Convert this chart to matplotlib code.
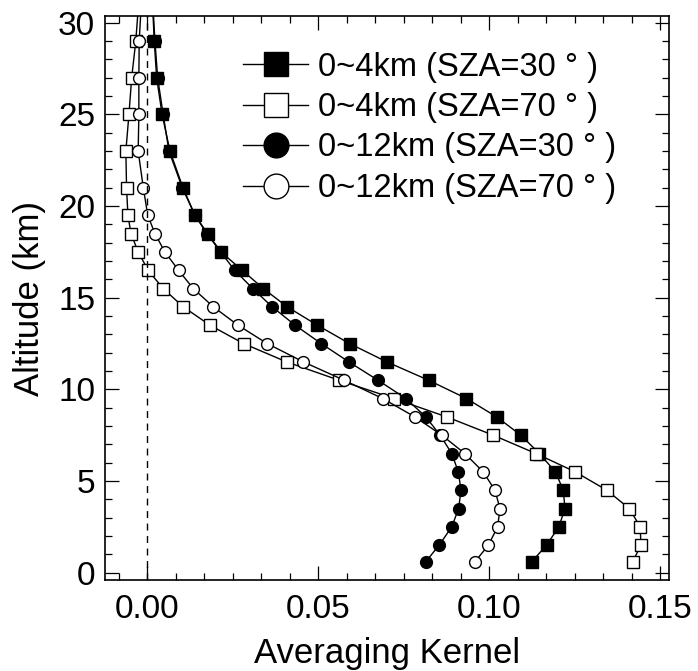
import matplotlib
matplotlib.use("Agg")
import matplotlib.pyplot as plt
from matplotlib.ticker import MultipleLocator

plt.rcParams['font.family'] = ['Liberation Sans', 'DejaVu Sans']

altitude = [0.6, 1.5, 2.5, 3.5, 4.5, 5.5, 6.5, 7.5, 8.5, 9.5, 10.5, 11.5, 12.5,
            13.5, 14.5, 15.5, 16.5, 17.5, 18.5, 19.5, 21, 23, 25, 27, 29, 31]

ak_4km_sza30 = [0.1124, 0.1167, 0.1203, 0.1221, 0.1216, 0.1193, 0.1146, 0.1092,
                0.1021, 0.0933, 0.0822, 0.0700, 0.0591, 0.0497, 0.0409, 0.0339,
                0.0277, 0.0215, 0.0176, 0.0139, 0.0104, 0.0066, 0.0043, 0.0027,
                0.0020, 0.0015]
ak_4km_sza70 = [0.1419, 0.1443, 0.1441, 0.1409, 0.1343, 0.1251, 0.1136, 0.1011,
                0.0875, 0.0721, 0.0560, 0.0407, 0.0281, 0.0183, 0.0105, 0.0046,
                0.0002, -0.0027, -0.0048, -0.0057, -0.0061, -0.0063, -0.0054,
                -0.0046, -0.0034, -0.0026]
ak_12km_sza30 = [0.0814, 0.0853, 0.0890, 0.0910, 0.0917, 0.0909, 0.0890, 0.0856,
                 0.0814, 0.0756, 0.0674, 0.0589, 0.0508, 0.0432, 0.0365, 0.0308,
                 0.0255, 0.0214, 0.0174, 0.0139, 0.0102, 0.0063, 0.0046, 0.0030,
                 0.0022, 0.0016]
ak_12km_sza70 = [0.0958, 0.0997, 0.1024, 0.1031, 0.1016, 0.0982, 0.0928, 0.0861,
                 0.0782, 0.0688, 0.0575, 0.0456, 0.0350, 0.0265, 0.0193, 0.0134,
                 0.0091, 0.0051, 0.0022, 0.0001, -0.0012, -0.0027, -0.0025,
                 -0.0025, -0.0024, -0.0018]

labels = ["0~4km (SZA=30 ° )", "0~4km (SZA=70 ° )",
          "0~12km (SZA=30 ° )", "0~12km (SZA=70 ° )"]
xticks = [0.00, 0.05, 0.10, 0.15]
xticklabels = ["0.00", "0.05", "0.10", "0.15"]
yticks = [0, 5, 10, 15, 20, 25, 30]

fig = plt.figure(figsize=(6.98, 6.71), dpi=100)
ax = fig.add_axes([105/698, 1-580/671, (669.3-105)/698, (580-16)/671])

lw = 1.0
ax.plot(ak_4km_sza30, altitude, '-', color='black', lw=lw, marker='s', ms=8,
        mfc='black', mec='black', label=labels[0])
ax.plot(ak_4km_sza70, altitude, '-', color='black', lw=lw, marker='s', ms=8,
        mfc='white', mec='black', mew=1.0, label=labels[1])
ax.plot(ak_12km_sza30, altitude, '-', color='black', lw=lw, marker='o', ms=8.5,
        mfc='black', mec='black', label=labels[2])
ax.plot(ak_12km_sza70, altitude, '-', color='black', lw=lw, marker='o', ms=8.5,
        mfc='white', mec='black', mew=1.0, label=labels[3])

ax.axvline(0.0, color='black', lw=1.0, ls=(0, (5, 4)))

ax.set_xlim(-0.0124, 0.1526)
ax.set_ylim(-0.4, 30.37)
ax.set_xticks(xticks)
ax.set_xticklabels(xticklabels)
ax.set_yticks(yticks)
ax.xaxis.set_minor_locator(MultipleLocator(0.05/6))
ax.yaxis.set_minor_locator(MultipleLocator(1))
ax.tick_params(which='both', direction='in', top=True, right=True,
               labelsize=24, width=0.9)
ax.tick_params(which='major', length=10)
ax.tick_params(which='minor', length=5)
ax.tick_params(axis='x', pad=10)
ax.tick_params(axis='y', pad=7)
for s in ax.spines.values():
    s.set_linewidth(1.2)

ax.set_xlabel("Averaging Kernel", fontsize=25, labelpad=9)
ax.set_ylabel("Altitude (km)", fontsize=25, labelpad=9)

leg = ax.legend(loc='upper left', bbox_to_anchor=(0.2446, 0.937), frameon=False,
                fontsize=23.5, markerscale=2.1, handlelength=2.0,
                handletextpad=0.3, labelspacing=0.29, borderaxespad=0,
                borderpad=0)

fig.savefig("out.png", dpi=100)
